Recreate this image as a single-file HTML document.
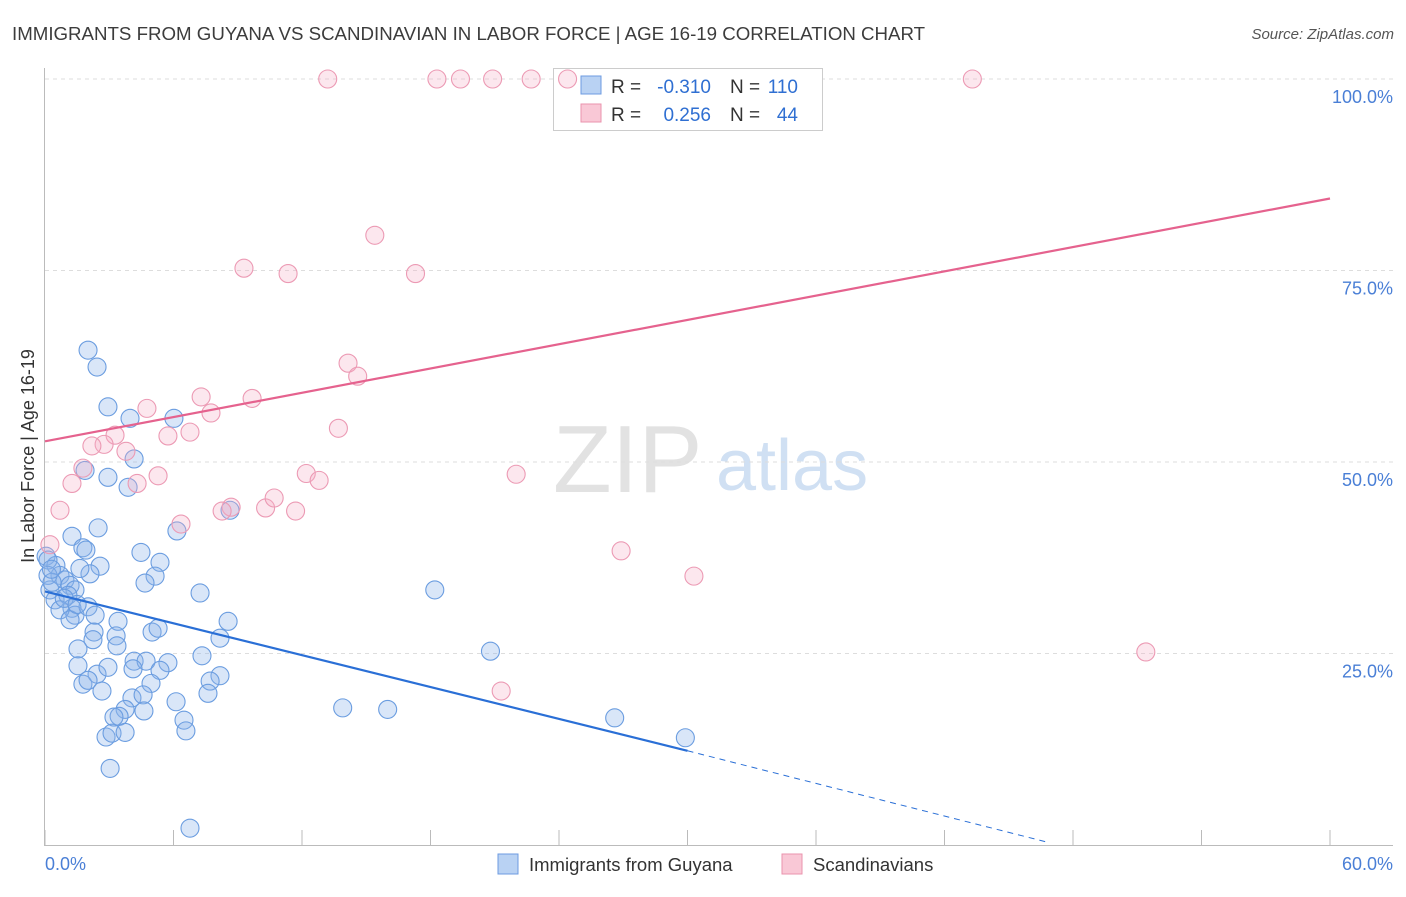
<!DOCTYPE html>
<html><head><meta charset="utf-8"><style>
body{margin:0;background:#fff;font-family:"Liberation Sans",sans-serif;}
svg text{font-family:"Liberation Sans",sans-serif;}
</style></head><body>
<svg id="chart" width="1406" height="892" viewBox="0 0 1406 892" xmlns="http://www.w3.org/2000/svg">
<text x="12" y="40" font-size="18.7" fill="#3c3c3c">IMMIGRANTS FROM GUYANA VS SCANDINAVIAN IN LABOR FORCE | AGE 16-19 CORRELATION CHART</text>
<text x="1394" y="39" font-size="15" fill="#555" text-anchor="end" font-style="italic">Source: ZipAtlas.com</text>
<g>
<text x="553" y="492" font-size="96" fill="#e2e2e2" font-family="Liberation Serif, serif">ZIP</text>
<text x="716" y="490" font-size="72" fill="#d0e0f3">atlas</text>
</g>
<g id="grid"></g>
<line x1="44.5" y1="68" x2="44.5" y2="845" stroke="#bbb"/>
<line x1="44" y1="845.5" x2="1393" y2="845.5" stroke="#bbb"/>
<g id="xticks"></g>
<g id="ylabels"></g>
<text x="45" y="870" font-size="18" fill="#4a7fd6">0.0%</text>
<text x="1393" y="870" font-size="18" fill="#4a7fd6" text-anchor="end">60.0%</text>
<text transform="translate(34,456) rotate(-90)" font-size="18" fill="#333" text-anchor="middle">In Labor Force | Age 16-19</text>
<g>
<rect x="553.5" y="68.5" width="269" height="62" fill="#fff" stroke="#ccc"/>
<rect x="581" y="76" width="20" height="18" fill="#b9d2f3" stroke="#6d9be0"/>
<rect x="581" y="104" width="20" height="18" fill="#f9c8d6" stroke="#ea93ad"/>
<text x="611" y="93" font-size="19" fill="#333">R =</text>
<text x="711" y="93" font-size="19" fill="#2f6fd2" text-anchor="end">-0.310</text>
<text x="730" y="93" font-size="19" fill="#333">N =</text>
<text x="798" y="93" font-size="19" fill="#2f6fd2" text-anchor="end">110</text>
<text x="611" y="121" font-size="19" fill="#333">R =</text>
<text x="711" y="121" font-size="19" fill="#2f6fd2" text-anchor="end">0.256</text>
<text x="730" y="121" font-size="19" fill="#333">N =</text>
<text x="798" y="121" font-size="19" fill="#2f6fd2" text-anchor="end">44</text>
</g>
<g id="pts"></g>
<g id="trends"></g>
<g>
<rect x="498" y="854" width="20" height="20" fill="#b9d2f3" stroke="#6d9be0"/>
<text x="529" y="871" font-size="18.5" fill="#333">Immigrants from Guyana</text>
<rect x="782" y="854" width="20" height="20" fill="#f9c8d6" stroke="#ea93ad"/>
<text x="813" y="871" font-size="18.5" fill="#333">Scandinavians</text>
</g>
</svg>
<script>
const yTicks=[25,50,75,100];
const yTickLabels=["25.0%","50.0%","75.0%","100.0%"];
const xTicks=[0,6,12,18,24,30,36,42,48,54,60];
const blueX=[2.01,2.43,2.94,3.97,6.02,4.16,1.87,2.94,3.88,8.64,6.16,2.48,0.05,1.26,1.77,1.91,2.57,2.10,1.63,0.51,0.70,0.93,1.17,1.40,0.23,0.47,1.07,1.26,1.40,0.70,2.01,2.34,1.17,0.14,0.14,0.33,4.48,5.37,5.14,4.67,7.24,8.55,18.2,3.41,3.32,3.36,2.29,2.24,5.00,5.28,8.17,1.54,7.33,1.54,2.43,1.77,2.01,2.94,4.16,4.72,5.74,5.37,4.11,8.17,7.71,4.95,4.06,4.58,2.66,7.61,6.12,3.74,3.46,4.62,3.22,6.49,6.58,2.85,3.13,3.74,3.04,6.77,13.9,16.0,20.8,26.6,29.9,0.9,1.5,0.3];
const blueY=[64.6,62.4,57.2,55.7,55.7,50.4,48.9,48.0,46.7,43.7,41.0,41.4,37.7,40.3,38.8,38.5,36.4,35.4,36.1,36.5,35.2,34.6,33.9,33.3,33.3,32.0,32.6,30.9,30.0,30.7,31.1,30.0,29.4,37.2,35.2,34.3,38.2,36.9,35.1,34.2,32.9,29.2,33.3,29.2,27.3,26.0,27.8,26.8,27.8,28.3,27.0,25.6,24.7,23.4,22.3,21.0,21.5,23.2,24.0,24.0,23.8,22.8,23.0,22.1,21.4,21.1,19.2,19.6,20.1,19.8,18.7,17.7,16.8,17.5,16.7,16.3,14.9,14.1,14.6,14.7,10.0,2.2,17.9,17.7,25.3,16.6,14.0,32.2,31.4,36.0];
const pinkX=[13.2,18.3,19.4,20.9,22.7,24.4,43.3,15.4,9.29,11.35,17.3,14.15,14.6,7.29,9.67,4.76,7.75,13.7,3.27,5.74,6.77,2.76,2.19,3.78,4.30,5.28,1.77,1.26,12.2,12.8,22.0,6.35,8.69,8.27,10.3,10.7,11.7,0.70,0.23,26.9,30.3,21.3,51.4];
const pinkY=[100,100,100,100,100,100,100,79.6,75.3,74.6,74.6,62.9,61.2,58.5,58.3,57.0,56.4,54.4,53.5,53.4,53.9,52.3,52.1,51.4,47.2,48.2,49.2,47.2,48.5,47.6,48.4,41.9,44.1,43.6,44.0,45.3,43.6,43.7,39.2,38.4,35.1,20.1,25.2];
const blueTrend=[33.1,12.3,0.3];const blueTrendX=[0,30,46.9];
const pinkTrend=[52.7,84.4];const pinkTrendX=[0,60];
const NS="http://www.w3.org/2000/svg";
const sx=v=>45+v/60*1285, sy=v=>845-v/100*766;
function mk(tag,attrs,parent){const e=document.createElementNS(NS,tag);for(const k in attrs)e.setAttribute(k,attrs[k]);parent.appendChild(e);return e;}
const grid=document.getElementById('grid'),yl=document.getElementById('ylabels'),xt=document.getElementById('xticks'),pts=document.getElementById('pts'),tr=document.getElementById('trends');
yTicks.forEach((t,i)=>{
 const l=mk('line',{x1:45,x2:1393,y1:sy(t),y2:sy(t),stroke:'#ddd','stroke-dasharray':'4,4'},grid);
 
 
 const tx=mk('text',{x:1393,y:sy(t)+24,'font-size':18,fill:'#4a7fd6','text-anchor':'end'},yl);
 tx.textContent=yTickLabels[i];
 
 
});
xTicks.forEach(t=>{
 const l=mk('line',{x1:sx(t),x2:sx(t),y1:830,y2:845,stroke:'#bbb'},xt);
 
 
});
blueX.forEach((x,i)=>{
 const c=mk('circle',{cx:sx(x),cy:sy(blueY[i]),r:9,fill:'rgba(140,180,235,0.33)',stroke:'#6b9de0','stroke-width':1.1},pts);
 
 
});
pinkX.forEach((x,i)=>{
 const c=mk('circle',{cx:sx(x),cy:sy(pinkY[i]),r:9,fill:'rgba(245,175,198,0.3)',stroke:'#ec9ab4','stroke-width':1.1},pts);
 
 
});
const b1=mk('line',{x1:sx(blueTrendX[0]),y1:sy(blueTrend[0]),x2:sx(blueTrendX[1]),y2:sy(blueTrend[1]),stroke:'#2a6fd6','stroke-width':2.2},tr);


const b2=mk('line',{x1:sx(blueTrendX[1]),y1:sy(blueTrend[1]),x2:sx(blueTrendX[2]),y2:sy(blueTrend[2]),stroke:'#2a6fd6','stroke-width':1,'stroke-dasharray':'6,5'},tr);


const p1=mk('line',{x1:sx(pinkTrendX[0]),y1:sy(pinkTrend[0]),x2:sx(pinkTrendX[1]),y2:sy(pinkTrend[1]),stroke:'#e5628e','stroke-width':2.2},tr);


</script>
</body></html>
